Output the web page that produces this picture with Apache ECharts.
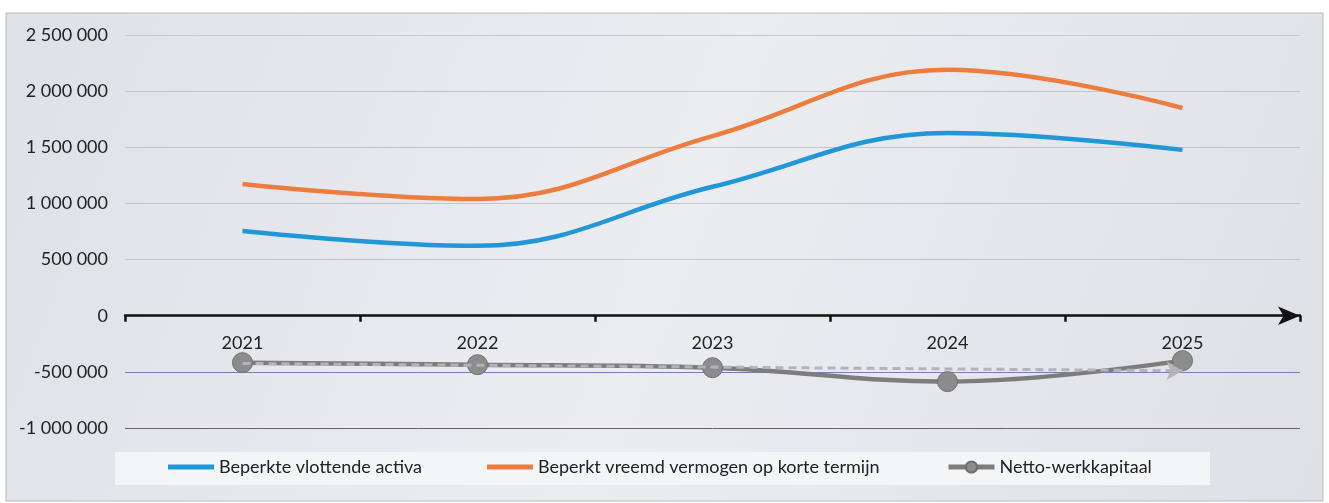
<!DOCTYPE html>
<html>
<head>
<meta charset="utf-8">
<script src="https://cdn.jsdelivr.net/npm/echarts@6/dist/echarts.min.js"></script>
<style>html,body{margin:0;padding:0;background:#fff;}#c{width:1329px;height:503px;}</style>
</head>
<body>
<div id="c"></div>
<script>
var categories = ['2021', '2022', '2023', '2024', '2025'];
var activa = [755000, 622000, 1148000, 1628000, 1477000];
var vreemd = [1174000, 1040000, 1600000, 2190000, 1850000];
var netto = [-418000, -436000, -463000, -587000, -400000];
var trendStart = -425000;
var trendEnd = -490000;
var seriesNames = ['Beperkte vlottende activa', 'Beperkt vreemd vermogen op korte termijn', 'Netto-werkkapitaal'];
var yMin = -1000000, yMax = 2500000;

function fmt(v) {
  var s = Math.abs(v).toString().replace(/\B(?=(\d{3})+(?!\d))/g, ' ');
  return (v < 0 ? '-' : '') + s;
}

var gridTop = 35, gridBottom = 75, H = 503;
var plotH = H - gridTop - gridBottom;
var zeroOffset = -plotH * (0 - yMin) / (yMax - yMin);

var chart = echarts.init(document.getElementById('c'));
var font = 'Lato';
var barIcon = 'path://M0 0H46V5H0Z';
var legendLefts = [168, 487, 946];
function makeLegend(i, extra) {
  var item = { name: seriesNames[i] };
  if (extra) { for (var k in extra) item[k] = extra[k]; }
  return {
    top: 458,
    left: legendLefts[i],
    padding: 0,
    itemWidth: 46,
    itemHeight: 14,
    itemGap: 8,
    textStyle: { fontSize: 18, color: '#222', fontFamily: font },
    data: [item]
  };
}
chart.setOption({
  backgroundColor: '#fff',
  animation: false,
  textStyle: { fontFamily: font },
  graphic: [{
    type: 'rect', z: -10, silent: true,
    shape: { x: 6, y: 13, width: 1317, height: 488 },
    style: {
      fill: new echarts.graphic.LinearGradient(0, 0, 1, 1, [
        { offset: 0, color: '#e0e1e8' },
        { offset: 0.5, color: '#ecedf1' },
        { offset: 1, color: '#dfe0e6' }
      ]),
      stroke: '#b8b8bc', lineWidth: 1
    }
  }, {
    type: 'rect', z: -9, silent: true,
    shape: { x: 115, y: 452, width: 1095, height: 33 },
    style: { fill: '#f4f5f7' }
  }],
  grid: { left: 125, right: 29, top: gridTop, bottom: gridBottom, containLabel: false },
  legend: [
    makeLegend(0, { icon: barIcon }),
    makeLegend(1, { icon: barIcon }),
    makeLegend(2, { lineStyle: { width: 5 } })
  ],
  xAxis: {
    type: 'category',
    data: categories,
    boundaryGap: true,
    position: 'bottom',
    offset: zeroOffset,
    axisLine: {
      onZero: false,
      symbol: ['none', 'arrow'],
      symbolSize: [14, 22],
      lineStyle: { color: '#111', width: 2.5 }
    },
    axisTick: { show: true, length: 6, lineStyle: { color: '#111', width: 2.5 } },
    axisLabel: { fontSize: 18, color: '#222', margin: 18 },
    splitLine: { show: false }
  },
  yAxis: {
    type: 'value',
    min: yMin,
    max: yMax,
    interval: 500000,
    axisLine: { show: false },
    axisTick: { show: false },
    axisLabel: { fontSize: 18, color: '#222', margin: 17, formatter: fmt },
    splitLine: {
      lineStyle: {
        color: ['#6f5e78', '#7c7cb0', 'rgba(0,0,0,0)', '#c4c5cc', '#c4c5cc', '#c4c5cc', '#c4c5cc', '#c9cad0'],
        width: 1
      }
    }
  },
  series: [
    {
      name: seriesNames[0], type: 'line', data: activa, smooth: 0.4,
      symbol: 'none', itemStyle: { color: '#2197d8' },
      lineStyle: { width: 4.5, color: '#2197d8' }, z: 3
    },
    {
      name: seriesNames[1], type: 'line', data: vreemd, smooth: 0.4,
      symbol: 'none', itemStyle: { color: '#ec7d3e' },
      lineStyle: { width: 4.5, color: '#ec7d3e' }, z: 3
    },
    {
      name: seriesNames[2], type: 'line', data: netto, smooth: 0.4,
      symbol: 'circle', symbolSize: 20,
      itemStyle: { color: '#8c8c8c', borderColor: '#6e6e6e', borderWidth: 1 },
      lineStyle: { width: 4.5, color: '#7d7d7d' }, z: 4,
      markLine: {
        silent: true,
        symbol: ['none', 'arrow'],
        symbolSize: [14, 16],
        label: { show: false },
        lineStyle: { type: [8, 5], color: '#b4b4b8', width: 3 },
        data: [[
          { coord: [categories[0], trendStart] },
          { coord: [categories[4], trendEnd] }
        ]]
      }
    }
  ]
});
</script>
</body>
</html>
